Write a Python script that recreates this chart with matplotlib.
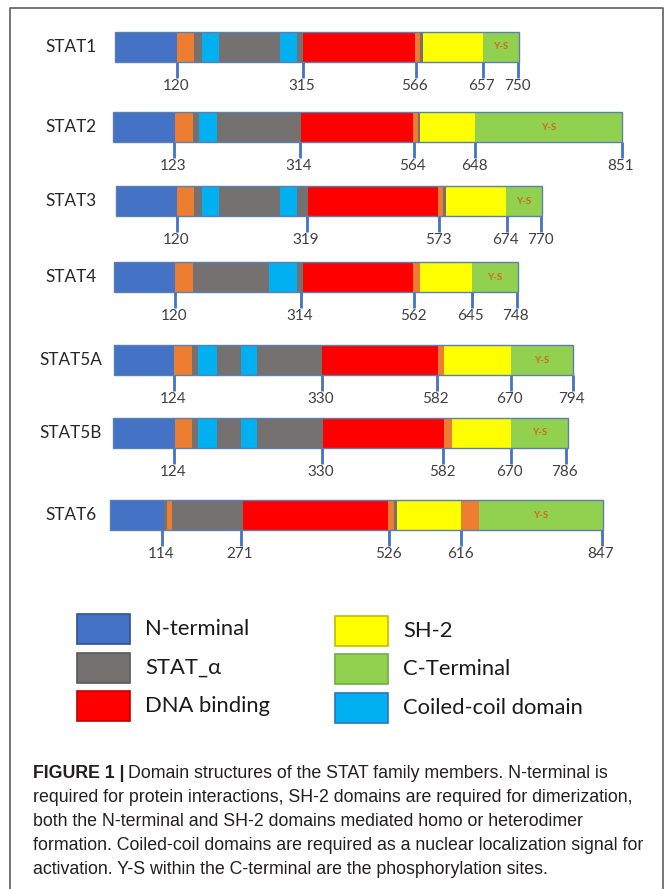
import matplotlib
matplotlib.use("Agg")
import matplotlib.pyplot as plt
from matplotlib.patches import Rectangle

# STAT members, top to bottom
stats = ['STAT1', 'STAT2', 'STAT3', 'STAT4', 'STAT5A', 'STAT5B', 'STAT6']

# domain edges as drawn along the bar (figure is not to scale)
edges = {
    'STAT1': [115, 176.7, 194.3, 201.7, 219, 280, 297.3, 303.3, 415, 420, 422.7, 482.7, 519],
    'STAT2': [113.3, 175, 192.7, 199.3, 216.7, 301, 413.3, 418.3, 420, 475, 622.3],
    'STAT3': [115.7, 176.7, 194.3, 201.7, 219, 280, 297.3, 308.3, 438.3, 443.3, 446, 506, 542.3],
    'STAT4': [114, 175, 192.7, 269.3, 296.7, 302.7, 413.3, 420, 471.7, 518.3],
    'STAT5A': [114, 174, 191.7, 198.3, 216.7, 241, 256.7, 321.7, 438.3, 444, 510.7, 573.3],
    'STAT5B': [113.3, 175, 191.7, 198.3, 216.7, 241, 256.7, 322.7, 444, 451.7, 510.7, 567.7],
    'STAT6': [110, 164, 166.7, 172.3, 243.3, 388.3, 394, 396.7, 461, 479, 602.7],
}
domains = {
    'STAT1': ['N', 'L', 'A', 'CC', 'A', 'CC', 'A', 'DNA', 'L', 'A', 'SH2', 'C'],
    'STAT2': ['N', 'L', 'A', 'CC', 'A', 'DNA', 'L', 'A', 'SH2', 'C'],
    'STAT3': ['N', 'L', 'A', 'CC', 'A', 'CC', 'A', 'DNA', 'L', 'A', 'SH2', 'C'],
    'STAT4': ['N', 'L', 'A', 'CC', 'A', 'DNA', 'L', 'SH2', 'C'],
    'STAT5A': ['N', 'L', 'A', 'CC', 'A', 'CC', 'A', 'DNA', 'L', 'SH2', 'C'],
    'STAT5B': ['N', 'L', 'A', 'CC', 'A', 'CC', 'A', 'DNA', 'L', 'SH2', 'C'],
    'STAT6': ['N', 'A', 'L', 'A', 'DNA', 'L', 'A', 'SH2', 'L', 'C'],
}
# residue numbers marked under each bar
tick_pos = {
    'STAT1': [176.7, 302.7, 415.7, 482.7, 518.3],
    'STAT2': [174.3, 300, 413.7, 475, 621.7],
    'STAT3': [176.7, 306.7, 439.3, 506.7, 541.3],
    'STAT4': [175, 301, 414.3, 471.7, 516.7],
    'STAT5A': [174.3, 321.7, 436.7, 510.7, 572.7],
    'STAT5B': [174.3, 321.7, 443.3, 510.7, 565.7],
    'STAT6': [162.3, 241, 389, 461, 601.7],
}
tick_labels = {
    'STAT1': ['120', '315', '566', '657', '750'],
    'STAT2': ['123', '314', '564', '648', '851'],
    'STAT3': ['120', '319', '573', '674', '770'],
    'STAT4': ['120', '314', '562', '645', '748'],
    'STAT5A': ['124', '330', '582', '670', '794'],
    'STAT5B': ['124', '330', '582', '670', '786'],
    'STAT6': ['114', '271', '526', '616', '847'],
}

colors = {'N': '#4472C4', 'L': '#ED7D31', 'A': '#767171', 'CC': '#00B0F0',
          'DNA': '#FF0000', 'SH2': '#FFFF00', 'C': '#92D050'}
edge_cols = {'N': '#2F528F', 'A': '#595959', 'DNA': '#C00000', 'SH2': '#BFBF00',
             'C': '#70AD47', 'CC': '#2E75B6'}
legend_left = [('N', 'N-terminal'), ('A', 'STAT_α'), ('DNA', 'DNA binding')]
legend_right = [('SH2', 'SH-2'), ('C', 'C-Terminal'), ('CC', 'Coiled-coil domain')]

caption_bold = 'FIGURE 1 |'
caption = ['Domain structures of the STAT family members. N-terminal is',
           'required for protein interactions, SH-2 domains are required for dimerization,',
           'both the N-terminal and SH-2 domains mediated homo or heterodimer',
           'formation. Coiled-coil domains are required as a nuclear localization signal for',
           'activation. Y-S within the C-terminal are the phosphorylation sites.']

# layout
row_y = [46.5, 127, 201.3, 277, 360.3, 432.8, 515.3]
bar_h = 30
lab_font = 'Lato'
cap_fs = 12.8

fig = plt.figure(figsize=(6.65, 8.89), dpi=100)
ax = fig.add_axes([0, 0, 1, 1])
ax.set_xlim(0, 665)
ax.set_ylim(889, 0)
ax.axis('off')

# outer frame (open at the bottom)
ax.plot([10, 10, 663, 663], [895, 8, 8, 895], color='#6b6b6b', lw=1.3)

for s, y in zip(stats, row_y):
    e = edges[s]
    for i, d in enumerate(domains[s]):
        ax.barh(y, e[i + 1] - e[i], left=e[i], height=bar_h, color=colors[d],
                edgecolor='none', zorder=2)
        if d == 'C':
            ax.text((e[i] + e[i + 1]) / 2, y, 'Y-S', color='#D2691E', fontsize=7,
                    weight='bold', ha='center', va='center', family=lab_font, zorder=4)
    ax.add_patch(Rectangle((e[0], y - bar_h / 2), e[-1] - e[0], bar_h, fill=False,
                           edgecolor='#5b7fae', lw=1.0, zorder=3))
    ax.text(71, y, s, fontsize=12.3, ha='center', va='center', color='#262626',
            family=lab_font)
    for xp, lb in zip(tick_pos[s], tick_labels[s]):
        ax.plot([xp, xp], [y + bar_h / 2, y + bar_h / 2 + 16], color='#4472C4', lw=2,
                zorder=1, solid_capstyle='butt')
        ax.text(xp - 1, y + bar_h / 2 + 24, lb, fontsize=11, ha='center', va='center',
                color='#404040', family=lab_font)

# legend
for col_x, txt_x, items, tops in [(77, 145, legend_left, [614, 653, 691]),
                                  (335, 403, legend_right, [616, 654, 693])]:
    for (d, name), t in zip(items, tops):
        ax.add_patch(Rectangle((col_x, t), 53, 30, facecolor=colors[d],
                               edgecolor=edge_cols[d], lw=1.2))
        ax.text(txt_x, t + 15, name, fontsize=15.8, ha='left', va='center',
                color='#1a1a1a', family=lab_font)

# caption
fig.canvas.draw()
r = fig.canvas.get_renderer()
cap_y = [773, 797.5, 822, 846, 870]
tb = ax.text(33, cap_y[0], caption_bold, fontsize=cap_fs, weight='bold', ha='left',
             va='center', color='#231f20', family='Liberation Sans')
bb = tb.get_window_extent(r)
ax.text(bb.x1 + 4, cap_y[0], caption[0], fontsize=cap_fs, ha='left', va='center',
        color='#231f20', family='Liberation Sans')
for line, yy in zip(caption[1:], cap_y[1:]):
    ax.text(33, yy, line, fontsize=cap_fs, ha='left', va='center', color='#231f20',
            family='Liberation Sans')

fig.savefig('out.png', dpi=100)
